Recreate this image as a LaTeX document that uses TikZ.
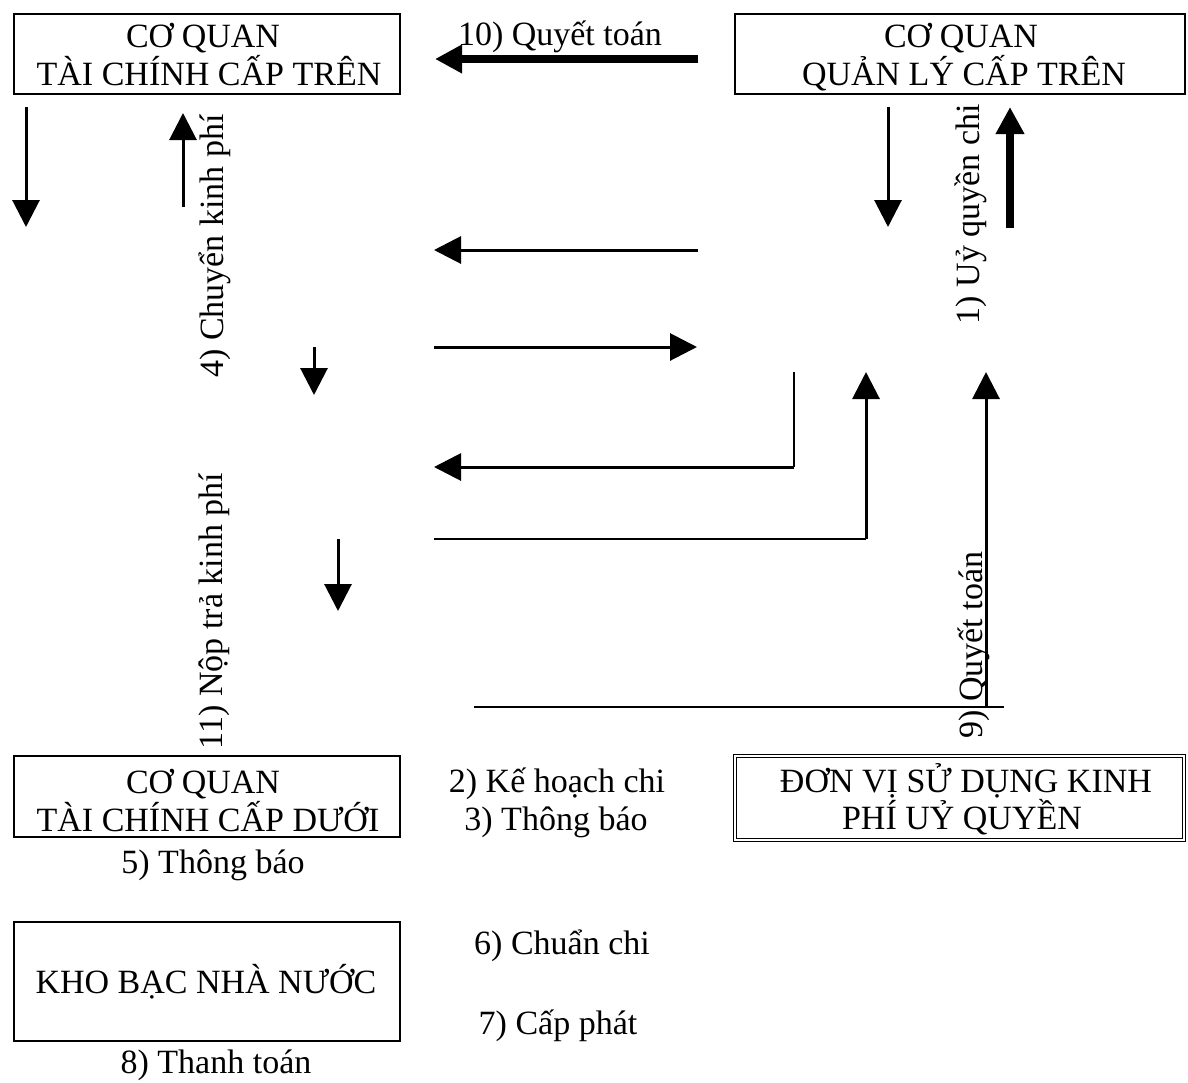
\documentclass[tikz,border=0pt]{standalone}
\usepackage{fontspec}
\setmainfont{Liberation Serif}
\usetikzlibrary{arrows.meta}
\begin{document}
\begin{tikzpicture}[x=1pt,y=-1pt,
  box/.style={draw, line width=2pt, inner sep=0pt, outer sep=0pt},
  dbox/.style={draw, double, line width=1pt, double distance=2pt, inner sep=0pt, outer sep=0pt},
  txt/.style={inner sep=0pt, anchor=base, font=\fontsize{34}{38}\selectfont},
  vtxt/.style={txt, rotate=90},
  head/.style={-{Triangle[length=27pt,width=27pt]}},
  thinarrow/.style={head, line width=3pt},
  thickarrow/.style={head, line width=8pt},
  flowline/.style={line width=2pt},
  heavyline/.style={line width=3pt},
]
\useasboundingbox (0,0) rectangle (1188,1082);

% boxes
\node[box, minimum width=386pt, minimum height=80pt] (tcTren) at (207,54) {};
\node[box, minimum width=450pt, minimum height=80pt] (qlTren) at (960,54) {};
\node[box, minimum width=386pt, minimum height=81pt] (tcDuoi) at (207,796.5) {};
\node[dbox, minimum width=449pt, minimum height=84pt] (dvsd) at (959.5,798) {};
\node[box, minimum width=386pt, minimum height=119pt] (kbnn) at (207,981.5) {};

% box texts
\node[txt] (tA1) at (203,47) {CƠ QUAN};
\node[txt] (tA2) at (209,85) {TÀI CHÍNH CẤP TRÊN};
\node[txt] (tB1) at (961,47) {CƠ QUAN};
\node[txt] (tB2) at (964,85) {QUẢN LÝ CẤP TRÊN};
\node[txt] (tC1) at (203,793) {CƠ QUAN};
\node[txt] (tC2) at (208,831) {TÀI CHÍNH CẤP DƯỚI};
\node[txt] (tD1) at (966,792) {ĐƠN VỊ SỬ DỤNG KINH};
\node[txt] (tD2) at (962,829) {PHÍ UỶ QUYỀN};
\node[txt] (tE) at (206,993) {KHO BẠC NHÀ NƯỚC};

% step labels
\node[txt] (l10) at (560,45) {10) Quyết toán};
\node[vtxt] (l4) at (223,246) {4) Chuyển kinh phí};
\node[vtxt] (l1) at (979,214) {1) Uỷ quyền chi};
\node[vtxt] (l11) at (222,611) {11) Nộp trả kinh phí};
\node[vtxt] (l9) at (982,645) {9) Quyết toán};
\node[txt] (l2) at (557,792) {2) Kế hoạch chi};
\node[txt] (l3) at (556,830) {3) Thông báo};
\node[txt] (l5) at (213,873) {5) Thông báo};
\node[txt] (l6) at (562,954) {6) Chuẩn chi};
\node[txt] (l7) at (558,1034) {7) Cấp phát};
\node[txt] (l8) at (216,1073) {8) Thanh toán};

% arrow end points
\coordinate (a10s) at (698,59);   \coordinate (a10e) at (435,59);
\coordinate (d1s) at (26,107);    \coordinate (d1e) at (26,227);
\coordinate (u4s) at (183,207);   \coordinate (u4e) at (183,113);
\coordinate (d2s) at (888,107);   \coordinate (d2e) at (888,227);
\coordinate (u1s) at (1010,228);  \coordinate (u1e) at (1010,107);
\coordinate (l2s) at (698,250);   \coordinate (l2e) at (434,250);
\coordinate (r3s) at (434,347);   \coordinate (r3e) at (697,347);
\coordinate (d5s) at (314,347);   \coordinate (d5e) at (314,395);
\coordinate (e6a) at (794,372);   \coordinate (e6b) at (794,467);   \coordinate (e6c) at (434,467);
\coordinate (e7a) at (434,539);   \coordinate (e7b) at (866,539);   \coordinate (e7c) at (866,372);
\coordinate (d8s) at (338,539);   \coordinate (d8e) at (338,611);
\coordinate (h9a) at (474,707);   \coordinate (h9b) at (1004,707);
\coordinate (u9s) at (986,707);   \coordinate (u9e) at (986,372);

% connectors
\draw[thickarrow] (a10s) -- (a10e);
\draw[thinarrow] (d1s) -- (d1e);
\draw[thinarrow] (u4s) -- (u4e);
\draw[thinarrow] (d2s) -- (d2e);
\draw[thickarrow] (u1s) -- (u1e);
\draw[thinarrow] (l2s) -- (l2e);
\draw[thinarrow] (r3s) -- (r3e);
\draw[thinarrow] (d5s) -- (d5e);
\draw[flowline] (e6a) -- (e6b);
\draw[thinarrow] (e6b) -- (e6c);
\draw[flowline] (e7a) -- (e7b);
\draw[thinarrow] (e7b) -- (e7c);
\draw[thinarrow] (d8s) -- (d8e);
\draw[flowline] (h9a) -- (h9b);
\draw[thinarrow] (u9s) -- (u9e);
\end{tikzpicture}
\end{document}
